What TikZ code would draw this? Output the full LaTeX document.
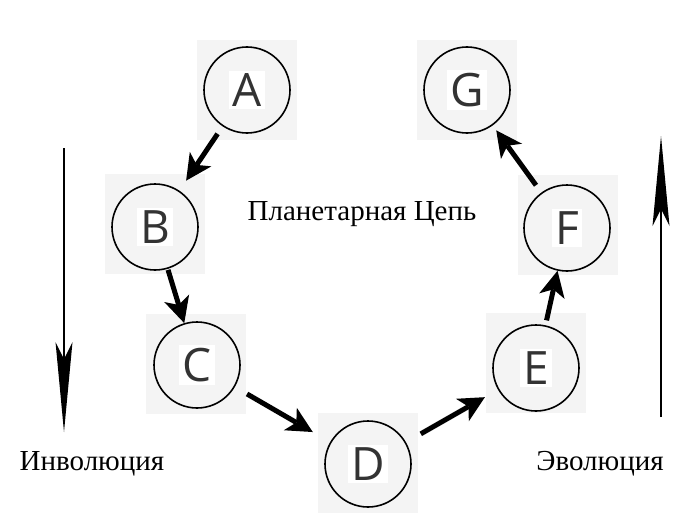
\documentclass[tikz,border=0pt]{standalone}
\usepackage{fontspec}
\setmainfont{Liberation Serif}
\newfontfamily\letterfont{Open Sans}
\usetikzlibrary{arrows.meta}
\definecolor{bggray}{HTML}{F4F4F4}
\definecolor{lettgray}{HTML}{333333}
\begin{document}
\begin{tikzpicture}[x=1pt,y=-1pt,
  bgsq/.style={fill=bggray, draw=none, minimum size=100pt, inner sep=0pt},
  planet/.style={circle, draw, line width=1.6pt, minimum size=86pt, inner sep=0pt},
  lett/.style={fill=white, inner sep=3pt, text=lettgray, font=\letterfont\fontsize{46}{46}\selectfont},
  link/.style={line width=5pt, -{Stealth[length=26pt,width=26pt,inset=7pt,line width=0pt]}},
  longarrow/.style={line width=2.8pt, -{Stealth[length=90pt,width=17pt,inset=17pt,line width=0pt]}},
  lab/.style={font=\fontsize{29}{29}\selectfont, inner sep=0pt}]
\useasboundingbox (0,0) rectangle (700,524);
% background squares
\node[bgsq] (Abg) at (247,90) {};
\node[bgsq] (Bbg) at (155,224) {};
\node[bgsq] (Cbg) at (196,364) {};
\node[bgsq] (Dbg) at (368,463) {};
\node[bgsq] (Ebg) at (536,363) {};
\node[bgsq] (Fbg) at (568,225) {};
\node[bgsq] (Gbg) at (467,90) {};
% planets
\node[planet] (A) at (247,90) {};
\node[planet] (B) at (155,227) {};
\node[planet] (C) at (197,365) {};
\node[planet] (D) at (368,464) {};
\node[planet] (E) at (536,368) {};
\node[planet] (F) at (567,228) {};
\node[planet] (G) at (467,90) {};
\node[lett] (Al) at (A) {A};
\node[lett] (Bl) at (B) {B};
\node[lett] (Cl) at (C) {C};
\node[lett] (Dl) at (D) {D};
\node[lett] (El) at (E) {E};
\node[lett] (Fl) at (F) {F};
\node[lett] (Gl) at (G) {G};
% connectors
\draw[link, shorten <=9pt, shorten >=12pt] (A) -- (B);
\draw[link, shorten <=1pt, shorten >=0pt] (B) -- (C);
\draw[link, shorten <=14pt, shorten >=20pt] (C) -- (D);
\draw[link, shorten <=17pt, shorten >=15pt] (D) -- (E);
\draw[link, shorten <=5pt, shorten >=0pt] (E) -- (F);
\draw[link, shorten <=9pt, shorten >=6pt] (F) -- (G);
% long arrows
\coordinate (invtop) at (64,148);
\coordinate (invbot) at (64,432);
\coordinate (evbot) at (661,417);
\coordinate (evtop) at (661,136);
\draw[longarrow] (invtop) -- (invbot);
\draw[longarrow] (evbot) -- (evtop);
% labels
\node[lab] (title) at (362,214) {Планетарная Цепь};
\node[lab] (inv) at (92,464) {Инволюция};
\node[lab] (evo) at (600,464) {Эволюция};
\end{tikzpicture}
\end{document}
